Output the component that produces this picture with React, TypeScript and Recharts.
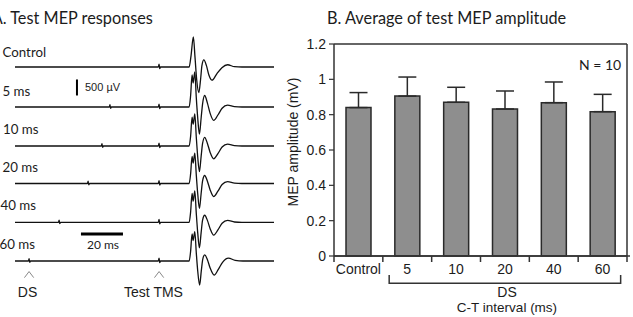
import React from 'react';
import { LineChart, Line, XAxis, YAxis, ReferenceLine, BarChart, Bar, ErrorBar } from 'recharts';

// ---------- Panel A data: MEP traces (time in ms, amplitude in mV) ----------
const traceLabels = ['Control', '5 ms', '10 ms', '20 ms', '40 ms', '60 ms'];

const controlTrace = [
  { t: 0, v: 0 }, { t: 68.2, v: 0 }, { t: 68.6, v: 0.09 }, { t: 68.9, v: -0.05 }, { t: 69.3, v: 0 },
  { t: 82.9, v: 0 }, { t: 83.8, v: 0.35 }, { t: 84.9, v: 0.94 }, { t: 85.7, v: 0.3 }, { t: 86.5, v: -0.4 },
  { t: 87.5, v: -0.8 }, { t: 88.4, v: -0.35 }, { t: 89.0, v: 0.05 }, { t: 89.9, v: 0.22 }, { t: 91.1, v: 0.05 },
  { t: 92.3, v: -0.25 }, { t: 93.8, v: -0.41 }, { t: 96.0, v: -0.22 }, { t: 98.5, v: -0.02 }, { t: 101.2, v: 0.07 },
  { t: 104.5, v: 0.01 }, { t: 108, v: 0 }, { t: 123.3, v: 0 },
];
const trace5 = [
  { t: 0, v: 0 }, { t: 44.9, v: 0 }, { t: 45.2, v: 0.07 }, { t: 45.5, v: -0.04 }, { t: 45.9, v: 0 },
  { t: 68.2, v: 0 }, { t: 68.6, v: 0.09 }, { t: 68.9, v: -0.05 }, { t: 69.3, v: 0 },
  { t: 82.9, v: 0 }, { t: 83.6, v: 0.35 }, { t: 84.3, v: 1.0 }, { t: 84.8, v: 0.75 }, { t: 85.6, v: 1.1 },
  { t: 86.3, v: 0.3 }, { t: 87.0, v: -0.35 }, { t: 87.8, v: -0.85 }, { t: 88.6, v: -0.35 }, { t: 89.3, v: 0.1 },
  { t: 90.3, v: 0.36 }, { t: 91.6, v: 0.12 }, { t: 92.9, v: -0.2 }, { t: 94.6, v: -0.42 }, { t: 96.6, v: -0.25 },
  { t: 98.6, v: -0.04 }, { t: 101.2, v: 0.06 }, { t: 104.5, v: 0.01 }, { t: 108, v: 0 }, { t: 123.3, v: 0 },
];
const trace10 = [
  { t: 0, v: 0 }, { t: 41.1, v: 0 }, { t: 41.4, v: 0.07 }, { t: 41.7, v: -0.04 }, { t: 42.1, v: 0 },
  { t: 68.2, v: 0 }, { t: 68.6, v: 0.09 }, { t: 68.9, v: -0.05 }, { t: 69.3, v: 0 },
  { t: 82.9, v: 0 }, { t: 83.6, v: 0.3 }, { t: 84.3, v: 0.9 }, { t: 84.8, v: 0.68 }, { t: 85.6, v: 1.0 },
  { t: 86.3, v: 0.28 }, { t: 87.0, v: -0.35 }, { t: 87.8, v: -0.8 }, { t: 88.6, v: -0.33 }, { t: 89.3, v: 0.08 },
  { t: 90.3, v: 0.27 }, { t: 91.6, v: 0.08 }, { t: 92.9, v: -0.2 }, { t: 94.6, v: -0.4 }, { t: 96.6, v: -0.24 },
  { t: 98.6, v: -0.03 }, { t: 101.2, v: 0.06 }, { t: 104.5, v: 0.01 }, { t: 108, v: 0 }, { t: 123.3, v: 0 },
];
const trace20 = [
  { t: 0, v: 0 }, { t: 34.5, v: 0 }, { t: 34.8, v: 0.07 }, { t: 35.1, v: -0.04 }, { t: 35.5, v: 0 },
  { t: 68.2, v: 0 }, { t: 68.6, v: 0.09 }, { t: 68.9, v: -0.05 }, { t: 69.3, v: 0 },
  { t: 82.9, v: 0 }, { t: 83.6, v: 0.3 }, { t: 84.3, v: 0.85 }, { t: 84.8, v: 0.64 }, { t: 85.6, v: 0.95 },
  { t: 86.3, v: 0.27 }, { t: 87.0, v: -0.33 }, { t: 87.8, v: -0.78 }, { t: 88.6, v: -0.32 }, { t: 89.3, v: 0.08 },
  { t: 90.3, v: 0.25 }, { t: 91.6, v: 0.07 }, { t: 92.9, v: -0.2 }, { t: 94.6, v: -0.41 }, { t: 96.6, v: -0.24 },
  { t: 98.6, v: -0.03 }, { t: 101.2, v: 0.06 }, { t: 104.5, v: 0.01 }, { t: 108, v: 0 }, { t: 123.3, v: 0 },
];
const trace40 = [
  { t: 0, v: 0 }, { t: 20.7, v: 0 }, { t: 21.0, v: 0.07 }, { t: 21.3, v: -0.04 }, { t: 21.7, v: 0 },
  { t: 68.2, v: 0 }, { t: 68.6, v: 0.09 }, { t: 68.9, v: -0.05 }, { t: 69.3, v: 0 },
  { t: 82.9, v: 0 }, { t: 83.6, v: 0.32 }, { t: 84.3, v: 0.9 }, { t: 84.8, v: 0.66 }, { t: 85.6, v: 0.98 },
  { t: 86.3, v: 0.28 }, { t: 87.0, v: -0.34 }, { t: 87.8, v: -0.8 }, { t: 88.6, v: -0.33 }, { t: 89.3, v: 0.07 },
  { t: 90.3, v: 0.22 }, { t: 91.6, v: 0.06 }, { t: 92.9, v: -0.2 }, { t: 94.6, v: -0.4 }, { t: 96.6, v: -0.24 },
  { t: 98.6, v: -0.03 }, { t: 101.2, v: 0.06 }, { t: 104.5, v: 0.01 }, { t: 108, v: 0 }, { t: 123.3, v: 0 },
];
const trace60 = [
  { t: 0, v: 0 }, { t: 6.4, v: 0 }, { t: 6.7, v: 0.07 }, { t: 7.0, v: -0.04 }, { t: 7.4, v: 0 },
  { t: 68.2, v: 0 }, { t: 68.6, v: 0.09 }, { t: 68.9, v: -0.05 }, { t: 69.3, v: 0 },
  { t: 82.9, v: 0 }, { t: 83.6, v: 0.3 }, { t: 84.3, v: 0.85 }, { t: 84.8, v: 0.64 }, { t: 85.6, v: 0.92 },
  { t: 86.3, v: 0.26 }, { t: 87.0, v: -0.32 }, { t: 87.9, v: -0.75 }, { t: 88.7, v: -0.3 }, { t: 89.4, v: 0.06 },
  { t: 90.3, v: 0.19 }, { t: 91.6, v: 0.04 }, { t: 92.9, v: -0.22 }, { t: 94.8, v: -0.44 }, { t: 96.8, v: -0.26 },
  { t: 98.8, v: -0.04 }, { t: 101.6, v: 0.09 }, { t: 104.8, v: 0.02 }, { t: 108.5, v: 0 }, { t: 123.3, v: 0 },
];
const traces = [controlTrace, trace5, trace10, trace20, trace40, trace60];

const dsTime60 = 6.7;
const testTmsTime = 68.6;
const scaleBarMs = 20;
const scaleBarMv = 0.5;

// ---------- Panel B data ----------
const categories = ['Control', '5', '10', '20', '40', '60'];
const meanAmp = [0.84, 0.905, 0.87, 0.832, 0.868, 0.817];
const semAmp = [0.085, 0.108, 0.085, 0.102, 0.117, 0.098];
const yTicks = [0, 0.2, 0.4, 0.6, 0.8, 1, 1.2];

const barData = categories.map((name, i) => ({ name, amp: meanAmp[i], err: [0, semAmp[i]] }));

// ---------- layout ----------
const A_W = 290;
const A_H = 317;
const A_TOP = 30;
const A_BOTTOM = 300;
const A_LEFT = 15;
const A_RIGHT = 274;
const PX_PER_MV = 32;
const baselinesPx = [67, 107, 146, 183.5, 222.3, 261];
const labelY = [56.5, 95.5, 133.5, 171.5, 210, 248.5];
const labelX = [2.5, 2.5, 3, 2.5, 0.5, -0.5];
const spanMv = (A_BOTTOM - A_TOP) / PX_PER_MV;
const yDomains = baselinesPx.map((b) => {
  const max = (b - A_TOP) / PX_PER_MV;
  return [max - spanMv, max];
});

// panel B plot box (pixels in page)
const B_PLOT_LEFT = 334;
const B_PLOT_RIGHT = 627;
const B_PLOT_BOTTOM = 256;
const bandPx = (B_PLOT_RIGHT - B_PLOT_LEFT) / categories.length;

const INK = '#1c1c1c';
const AXIS = '#333';
const myriad = 'Lato, "Open Sans", sans-serif';
const arial = '"Liberation Sans", Arial, sans-serif';

export default function App() {
  const bracketL = B_PLOT_LEFT + bandPx * 1.13;
  const bracketR = B_PLOT_LEFT + bandPx * 5.87;
  return (
    <div style={{ position: 'absolute', left: 0, top: 0, width: 633, height: 317, background: '#fff', overflow: 'hidden' }}>
      <div style={{ position: 'absolute', left: 0, top: 0 }}>
        <LineChart width={A_W} height={A_H} margin={{ top: A_TOP, bottom: A_H - A_BOTTOM, left: A_LEFT, right: A_W - A_RIGHT }}>
          <XAxis type="number" dataKey="t" domain={[0, 123.3]} allowDataOverflow hide />
          {yDomains.map((d, i) => (
            <YAxis key={i} yAxisId={'y' + i} type="number" domain={d} allowDataOverflow hide />
          ))}
          {traces.map((tr, i) => (
            <Line
              key={i}
              data={tr}
              dataKey="v"
              yAxisId={'y' + i}
              type="monotone"
              stroke="#111"
              strokeWidth={1.3}
              dot={false}
              isAnimationActive={false}
            />
          ))}
          {/* 500 µV scale bar */}
          <ReferenceLine yAxisId="y1" segment={[{ x: 29.5, y: 0.36 }, { x: 29.5, y: 0.36 + scaleBarMv }]} stroke="#000" strokeWidth={2} />
          {/* 20 ms scale bar */}
          <ReferenceLine yAxisId="y5" segment={[{ x: 31.4, y: 0.84 }, { x: 31.4 + scaleBarMs, y: 0.84 }]} stroke="#000" strokeWidth={3} />
          {/* DS and Test TMS chevrons */}
          <ReferenceLine yAxisId="y5" segment={[{ x: dsTime60 - 2.2, y: -0.52 }, { x: dsTime60, y: -0.33 }]} stroke="#888" strokeWidth={1} />
          <ReferenceLine yAxisId="y5" segment={[{ x: dsTime60, y: -0.33 }, { x: dsTime60 + 2.2, y: -0.52 }]} stroke="#888" strokeWidth={1} />
          <ReferenceLine yAxisId="y5" segment={[{ x: testTmsTime - 2.2, y: -0.52 }, { x: testTmsTime, y: -0.33 }]} stroke="#888" strokeWidth={1} />
          <ReferenceLine yAxisId="y5" segment={[{ x: testTmsTime, y: -0.33 }, { x: testTmsTime + 2.2, y: -0.52 }]} stroke="#888" strokeWidth={1} />
        </LineChart>
      </div>

      <div style={{ position: 'absolute', left: 290, top: 0 }}>
        <BarChart width={343} height={317} data={barData} margin={{ top: 43, right: 5, bottom: 60, left: 4 }}>
          <XAxis
            xAxisId="cat"
            dataKey="name"
            height={1}
            interval={0}
            axisLine={{ stroke: AXIS, strokeWidth: 1.5 }}
            tickLine={false}
            tickSize={6}
            tickMargin={2}
            tick={{ fontSize: 14, fill: INK, fontFamily: arial }}
          />
          <XAxis
            xAxisId="top"
            orientation="top"
            dataKey="name"
            height={1}
            tick={false}
            tickLine={false}
            axisLine={{ stroke: AXIS, strokeWidth: 1.5 }}
          />
          <YAxis
            yAxisId="left"
            type="number"
            domain={[0, 1.2]}
            ticks={yTicks}
            width={40}
            tickSize={5}
            tickMargin={3}
            axisLine={{ stroke: AXIS, strokeWidth: 1.5 }}
            tickLine={{ stroke: AXIS, strokeWidth: 1.2 }}
            tick={{ fontSize: 14, fill: INK, fontFamily: arial }}
          />
          <YAxis
            yAxisId="right"
            orientation="right"
            type="number"
            domain={[0, 1.2]}
            width={1}
            tick={false}
            tickLine={false}
            axisLine={{ stroke: AXIS, strokeWidth: 1.5 }}
          />
          <Bar
            dataKey="amp"
            xAxisId="cat"
            yAxisId="left"
            barSize={25}
            fill="#8e8e8e"
            stroke="#2a2a2a"
            strokeWidth={1.5}
            isAnimationActive={false}
          >
            <ErrorBar dataKey="err" direction="y" width={9} stroke="#2a2a2a" strokeWidth={1.5} isAnimationActive={false} />
          </Bar>
        </BarChart>
      </div>

      <svg width={633} height={317} style={{ position: 'absolute', left: 0, top: 0, pointerEvents: 'none' }}>
        <text x={-8.3} y={24} fontFamily={myriad} fontSize={16.3} fill={INK}>A. Test MEP responses</text>
        {traceLabels.map((l, i) => (
          <text key={l} x={labelX[i]} y={labelY[i]} fontFamily={myriad} fontSize={13.3} fill={INK}>{l}</text>
        ))}
        <text x={85} y={91} fontFamily={arial} fontSize={11} fill={INK}>500 µV</text>
        <text x={103} y={249} textAnchor="middle" fontFamily={myriad} fontSize={12} fill={INK}>20 ms</text>
        <text x={27.5} y={297} textAnchor="middle" fontFamily={arial} fontSize={14} fill={INK}>DS</text>
        <text x={153.5} y={297} textAnchor="middle" fontFamily={arial} fontSize={14} fill={INK}>Test TMS</text>

        {/* panel B: category boundary ticks and extended base line */}
        <line x1={B_PLOT_LEFT} x2={B_PLOT_RIGHT + 3} y1={B_PLOT_BOTTOM} y2={B_PLOT_BOTTOM} stroke={AXIS} strokeWidth={1.5} />
        {categories.concat(['']).map((_, i) => (
          <line key={'bt' + i} x1={B_PLOT_LEFT + bandPx * i} x2={B_PLOT_LEFT + bandPx * i} y1={B_PLOT_BOTTOM} y2={B_PLOT_BOTTOM + 6} stroke={AXIS} strokeWidth={1.5} />
        ))}
        {/* DS bracket */}
        <polyline points={`${bracketL},275 ${bracketL},283.3 ${bracketR},283.3 ${bracketR},275`} fill="none" stroke={AXIS} strokeWidth={1.5} />

        <text x={327} y={24} fontFamily={myriad} fontSize={16.3} fill={INK}>B. Average of test MEP amplitude</text>
        <text x={579} y={70} fontFamily={myriad} fontSize={14} fill={INK}>N = 10</text>
        <text x={293} y={142} textAnchor="middle" dominantBaseline="central" transform="rotate(-90 293 142)" fontFamily={arial} fontSize={14} fill={INK}>MEP amplitude (mV)</text>
        <text x={507} y={297} textAnchor="middle" fontFamily={arial} fontSize={14} fill={INK}>DS</text>
        <text x={507} y={311.5} textAnchor="middle" fontFamily={arial} fontSize={13.5} fill={INK}>C-T interval (ms)</text>
      </svg>
    </div>
  );
}
